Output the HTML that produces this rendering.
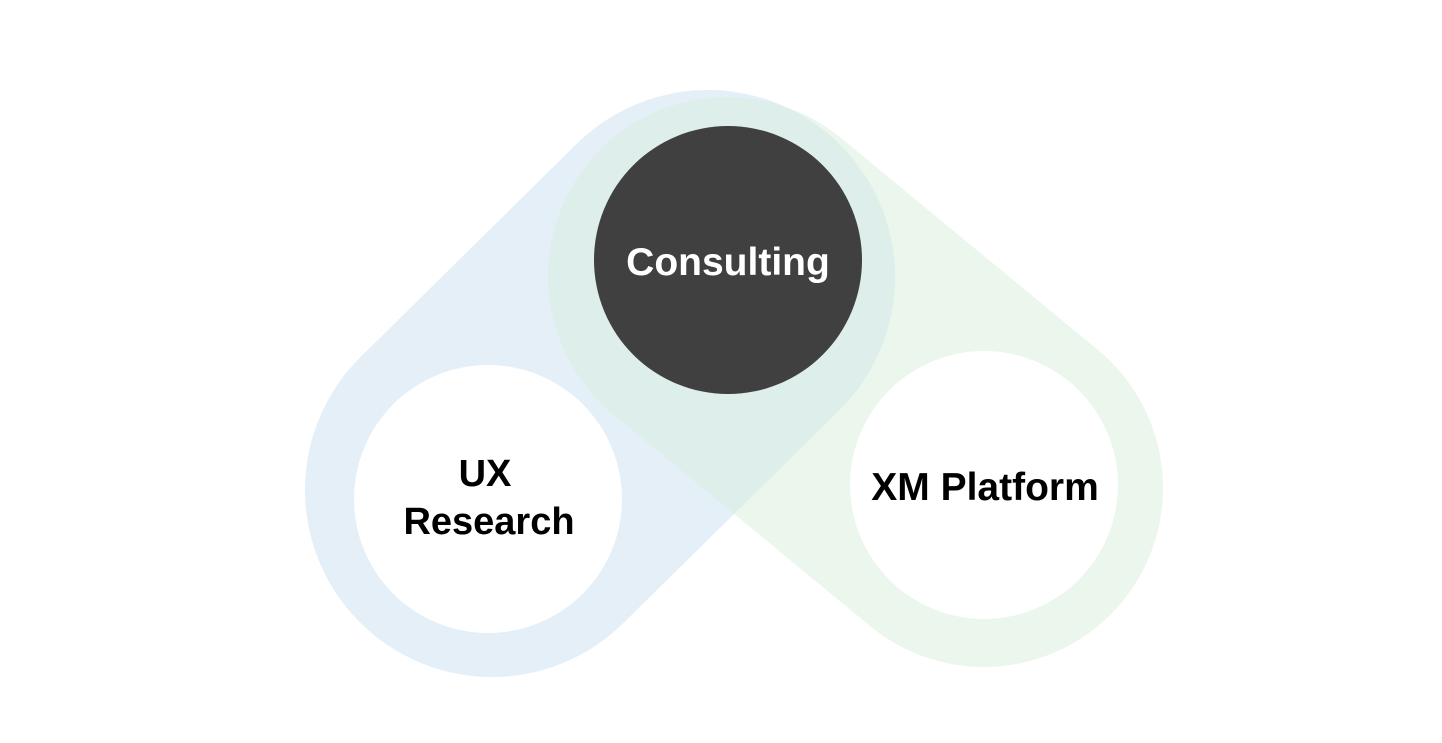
<!DOCTYPE html>
<html><head><style>
body{margin:0;background:#fff;}
svg{display:block;}
text{font-family:"Liberation Sans",sans-serif;font-weight:bold;}
</style></head><body>
<svg width="1442" height="743" viewBox="0 0 1442 743">
<line x1="492" y1="490" x2="708" y2="277" stroke="#e4eff8" stroke-width="374" stroke-linecap="round"/>
<g opacity="0.52">
<line x1="984" y1="488" x2="727" y2="276" stroke="rgb(218,238,222)" stroke-width="358" stroke-linecap="round"/>
</g>
<circle cx="488" cy="499" r="134" fill="#fff"/>
<circle cx="984" cy="485" r="134" fill="#fff"/>
<circle cx="728" cy="260" r="134" fill="#404040"/>
<text x="728" y="275" font-size="39" fill="#fff" text-anchor="middle">Consulting</text>
<text x="485" y="486" font-size="38" fill="#000" text-anchor="middle">UX</text>
<text x="489" y="534" font-size="38" fill="#000" text-anchor="middle">Research</text>
<text x="985" y="500" font-size="39" fill="#000" text-anchor="middle">XM Platform</text>
</svg>
</body></html>
